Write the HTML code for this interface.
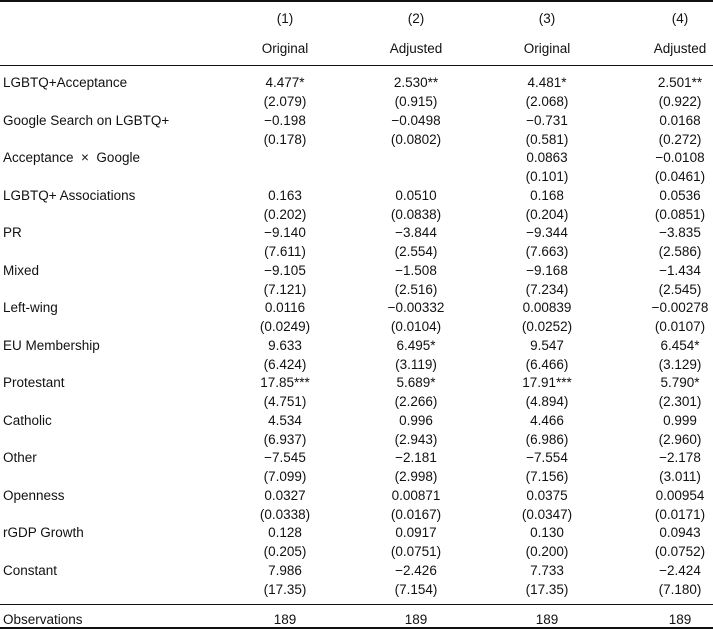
<!DOCTYPE html>
<html><head><meta charset="utf-8"><style>
body{margin:0;width:713px;height:631px;background:#fff;position:relative;font-family:"Liberation Sans",sans-serif;font-size:13.5px;color:#111;overflow:hidden}
.t{position:absolute;line-height:18px;white-space:nowrap}
.c{position:absolute;line-height:18px;white-space:nowrap;width:120px;text-align:center}
.l{position:absolute;left:0;width:713px;background:#111}
</style></head><body>
<div class="l" style="top:0;height:2px"></div>
<div class="l" style="top:65px;height:1px"></div>
<div class="l" style="top:604px;height:1px"></div>
<div class="l" style="top:627px;height:2px"></div>
<div id="r"></div>
<script>
var C=[285,416,547,680];
var h='';
function c(x,y,s){h+='<div class="c" style="left:'+(x-60)+'px;top:'+(y-8)+'px">'+s+'</div>';}
function t(y,s){h+='<div class="t" style="left:3px;top:'+(y-8)+'px">'+s+'</div>';}
['(1)','(2)','(3)','(4)'].forEach((s,i)=>c(C[i],18,s));
['Original','Adjusted','Original','Adjusted'].forEach((s,i)=>c(C[i],48,s));
var rows=[
['LGBTQ+Acceptance',['4.477*','2.530**','4.481*','2.501**'],['(2.079)','(0.915)','(2.068)','(0.922)']],
['Google Search on LGBTQ+',['−0.198','−0.0498','−0.731','0.0168'],['(0.178)','(0.0802)','(0.581)','(0.272)']],
['Acceptance &nbsp;×&nbsp; Google',['','','0.0863','−0.0108'],['','','(0.101)','(0.0461)']],
['LGBTQ+ Associations',['0.163','0.0510','0.168','0.0536'],['(0.202)','(0.0838)','(0.204)','(0.0851)']],
['PR',['−9.140','−3.844','−9.344','−3.835'],['(7.611)','(2.554)','(7.663)','(2.586)']],
['Mixed',['−9.105','−1.508','−9.168','−1.434'],['(7.121)','(2.516)','(7.234)','(2.545)']],
['Left-wing',['0.0116','−0.00332','0.00839','−0.00278'],['(0.0249)','(0.0104)','(0.0252)','(0.0107)']],
['EU Membership',['9.633','6.495*','9.547','6.454*'],['(6.424)','(3.119)','(6.466)','(3.129)']],
['Protestant',['17.85***','5.689*','17.91***','5.790*'],['(4.751)','(2.266)','(4.894)','(2.301)']],
['Catholic',['4.534','0.996','4.466','0.999'],['(6.937)','(2.943)','(6.986)','(2.960)']],
['Other',['−7.545','−2.181','−7.554','−2.178'],['(7.099)','(2.998)','(7.156)','(3.011)']],
['Openness',['0.0327','0.00871','0.0375','0.00954'],['(0.0338)','(0.0167)','(0.0347)','(0.0171)']],
['rGDP Growth',['0.128','0.0917','0.130','0.0943'],['(0.205)','(0.0751)','(0.200)','(0.0752)']],
['Constant',['7.986','−2.426','7.733','−2.424'],['(17.35)','(7.154)','(17.35)','(7.180)']]
];
rows.forEach((r,i)=>{var y=82+37.5*i;t(y,r[0]);r[1].forEach((s,j)=>c(C[j],y,s));r[2].forEach((s,j)=>c(C[j],y+19,s));});
t(619,'Observations');[0,1,2,3].forEach(j=>c(C[j],619,'189'));
document.getElementById('r').innerHTML=h;
</script>
</body></html>
